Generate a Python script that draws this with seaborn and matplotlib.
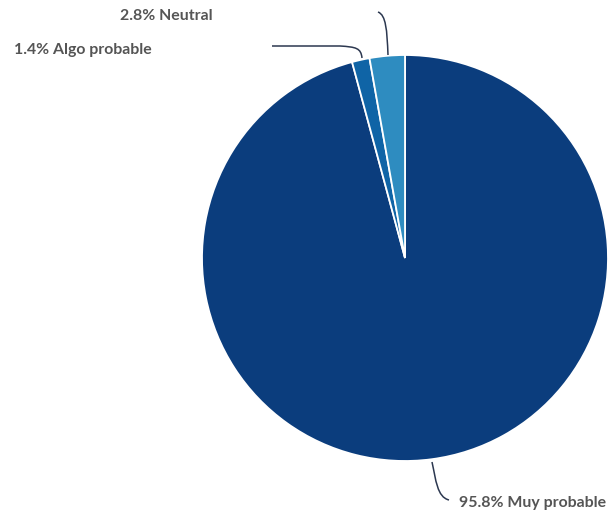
import matplotlib.pyplot as plt
import seaborn as sns
from matplotlib.path import Path
from matplotlib.patches import PathPatch

# data
labels = ["Muy probable", "Algo probable", "Neutral"]
shares = [95.8, 1.4, 2.8]
colors = ["#0b3d7d", "#0f64a6", "#2e8cc0"]

sns.set_theme(style="white")
plt.rcParams['font.family'] = ['Lato', 'DejaVu Sans']

fig = plt.figure(figsize=(6.09, 5.16), dpi=100)
ax = fig.add_axes([0, 0, 1, 1])

# pixel-like coordinates, y axis pointing down
cx, cy, r = 405, 258, 203
ax.pie(shares, colors=colors, startangle=-90, counterclock=True,
       center=(cx, cy), radius=r, frame=True,
       wedgeprops=dict(edgecolor="white", linewidth=1.3))
ax.set_xlim(0, 609)
ax.set_ylim(516, 0)
ax.set_aspect('equal')
ax.axis('off')

line_kw = dict(facecolor="none", edgecolor="#2c3850", linewidth=1.1)
txt_kw = dict(fontsize=11.4, fontweight="bold", color="#555555")

# leader lines + labels
p = Path([(432, 462), (436, 480), (437, 497), (449, 500)],
         [Path.MOVETO, Path.CURVE4, Path.CURVE4, Path.CURVE4])
ax.add_patch(PathPatch(p, **line_kw))
ax.text(606, 503, f"{shares[0]}% {labels[0]}", ha="right", va="center", **txt_kw)

p = Path([(362, 58), (361, 48), (356, 47), (340, 46), (272, 46)],
         [Path.MOVETO, Path.CURVE4, Path.CURVE4, Path.CURVE4, Path.LINETO])
ax.add_patch(PathPatch(p, **line_kw))
ax.text(14, 50, f"{shares[1]}% {labels[1]}", ha="left", va="center", **txt_kw)

p = Path([(388, 55), (387, 30), (386, 15), (378, 12)],
         [Path.MOVETO, Path.CURVE4, Path.CURVE4, Path.CURVE4])
ax.add_patch(PathPatch(p, **line_kw))
ax.text(213, 16, f"{shares[2]}% {labels[2]}", ha="right", va="center", **txt_kw)

fig.savefig("out.png", dpi=100)
